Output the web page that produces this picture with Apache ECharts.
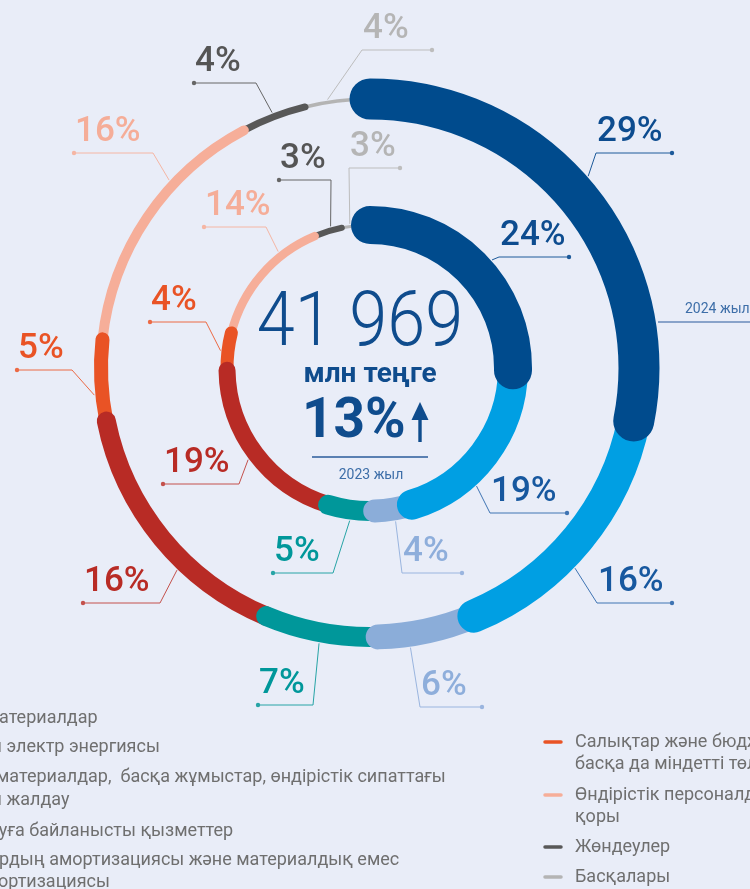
<!DOCTYPE html>
<html>
<head>
<meta charset="utf-8">
<script src="https://cdn.jsdelivr.net/npm/echarts@6/dist/echarts.min.js"></script>
<style>
  html, body { margin: 0; padding: 0; background: #e9edf8; }
  #chart { width: 750px; height: 889px; }
</style>
</head>
<body>
<div id="chart"></div>
<script>
// Cost structure by category, listed clockwise from 12 o'clock
const categories = [
  'Шикізат және материалдар',
  'Сатып алынған электр энергиясы',
  'Қосалқы материалдар,  басқа жұмыстар, өндірістік сипаттағы қызметтер мен жалдау',
  'Тасымалдауға байланысты қызметтер',
  'Негізгі құралдардың амортизациясы және материалдық емес активтердің амортизациясы',
  'Салықтар және бюджетке төленетін басқа да міндетті төлемдер',
  'Өндірістік персоналдың еңбекақы қоры',
  'Жөндеулер',
  'Басқалары'
];
const share2024 = [29, 16, 6, 7, 16, 5, 16, 4, 4];   // outer ring, %
const share2023 = [24, 19, 4, 5, 19, 4, 14, 3, 3];   // inner ring, %
const ringYears = ['2024 жыл', '2023 жыл'];
const totalCost = '41 969';
const totalUnit = 'млн теңге';
const totalGrowth = '13%';

// ---- styling ----
const segColors  = ['#004b8d', '#009fe3', '#8badd9', '#00979a', '#b82b25', '#e95325', '#f6ae99', '#585858', '#b4b4b4'];
const textColors = ['#0d4c8f', '#17589f', '#8eaedb', '#00979a', '#b82b25', '#e95325', '#f5ad98', '#555555', '#b5b5b5'];
const lineColors = ['#1d5a9a', '#3f74b3', '#9ab5df', '#27a4a6', '#c4514c', '#ec6a45', '#f5b6a4', '#666666', '#bdbdbd'];
const outerWidths = [41, 33, 25, 20, 19, 14, 10, 7, 3.5];
const innerWidths = [38, 30, 23, 20, 17, 13, 8.5, 6, 3];

// leader lines: elbow point, end x of the horizontal stroke, anchor nudge (deg)
const outerLabels = [
  { elbow: [596, 153], endX: 672, nudge: -2 },
  { elbow: [597, 603], endX: 672, nudge: 5 },
  { elbow: [420, 707], endX: 482, nudge: 4 },
  { elbow: [313, 705], endX: 258, nudge: 0 },
  { elbow: [160, 603], endX: 83,  nudge: -7 },
  { elbow: [72, 370],  endX: 17,  nudge: -3 },
  { elbow: [153, 153], endX: 74,  nudge: 9 },
  { elbow: [256, 83],  endX: 194, nudge: 0 },
  { elbow: [362, 50],  endX: 432, nudge: -2 }
];
const innerLabels = [
  { elbow: [499, 257], endX: 569, nudge: 3 },
  { elbow: [490, 513], endX: 567, nudge: 11 },
  { elbow: [402, 573], endX: 462, nudge: 0 },
  { elbow: [333, 573], endX: 273, nudge: 0 },
  { elbow: [239, 484], endX: 163, nudge: 0 },
  { elbow: [206, 322], endX: 150, nudge: 0 },
  { elbow: [266, 227], endX: 204, nudge: 11 },
  { elbow: [331, 180], endX: 279, nudge: 1.5 },
  { elbow: [349, 168], endX: 400, nudge: -2.3 }
];

const FONT = 'Roboto, "Noto Sans", sans-serif';
const LABEL_SIZE = 35;

function sum(a) { return a.reduce((s, v) => s + v, 0); }

// [radius, angleStart, angleEnd, index] per segment
function segments(values) {
  let acc = 0;
  return values.map((v, i) => { const d = [1, acc, acc + v, i]; acc += v; return d; });
}

function ringRenderer(values, widths, labels) {
  const total = sum(values);
  return function (params, api) {
    const i = api.value(3);
    const a0 = api.value(1), a1 = api.value(2);
    const cs = params.coordSys;
    const cx = cs.cx, cy = cs.cy;
    const p0 = api.coord([1, a0]);
    const p1 = api.coord([1, a1]);
    const rad = Math.hypot(p0[0] - cx, p0[1] - cy);
    const ang = p => Math.atan2(p[1] - cy, p[0] - cx);
    const w = widths[i];
    const L = labels[i];
    const pm = api.coord([1, (a0 + a1) / 2 + L.nudge * total / 360]);
    const k = (rad + w / 2 + 1) / rad;
    const anchor = [cx + (pm[0] - cx) * k, cy + (pm[1] - cy) * k];
    const lineY = L.elbow[1];
    return {
      type: 'group',
      children: [
        {
          type: 'arc', z2: 40 - i,
          shape: { cx: cx, cy: cy, r: rad, startAngle: ang(p0), endAngle: ang(p1), clockwise: true },
          style: { stroke: segColors[i], lineWidth: w, lineCap: 'round', fill: 'none' }
        },
        {
          type: 'polyline', z2: 1,
          shape: { points: [anchor, L.elbow, [L.endX, lineY]] },
          style: { stroke: lineColors[i], lineWidth: 1, fill: 'none' }
        },
        {
          type: 'circle', z2: 1,
          shape: { cx: L.endX, cy: lineY, r: 2.2 },
          style: { fill: lineColors[i] }
        },
        {
          type: 'text', z2: 2,
          x: Math.min(L.elbow[0], L.endX) + 1,
          y: lineY - 9 - 0.35 * LABEL_SIZE,
          style: {
            text: values[i] + '%', fill: textColors[i],
            fontFamily: FONT, fontWeight: 500, fontSize: LABEL_SIZE,
            align: 'left', verticalAlign: 'middle'
          }
        }
      ]
    };
  };
}

// ---- legend text placement (left column runs off the left edge) ----
const measureCtx = document.createElement('canvas').getContext('2d');
measureCtx.font = '18px Roboto';
function startFor(text, marker, targetX) {
  const i = text.indexOf(marker);
  return targetX - measureCtx.measureText(text.slice(0, i)).width;
}
const legendWrap = [
  ['Шикізат және материалдар'],
  ['Сатып алынған электр энергиясы'],
  ['Қосалқы материалдар,  басқа жұмыстар, өндірістік сипаттағы', 'қызметтер мен жалдау'],
  ['Тасымалдауға байланысты қызметтер'],
  ['Негізгі құралдардың амортизациясы және материалдық емес', 'активтердің амортизациясы'],
  ['Салықтар және бюджетке төленетін', 'басқа да міндетті төлемдер'],
  ['Өндірістік персоналдың еңбекақы', 'қоры'],
  ['Жөндеулер'],
  ['Басқалары']
];
// visible portion markers for the left column lines and where they start
const leftClip = [
  [['атериалдар', -1]],
  [[' электр', 2]],
  [['материалдар,', -4], [' жалдау', 2]],
  [['уға', -1]],
  [['рдың', -1], ['ортизациясы', -2]]
];
const legendRowY = [[718], [747], [777, 800], [831], [860, 882], [742, 764], [795, 817], [847], [877]];

const graphics = [];
legendWrap.forEach((lines, i) => {
  let firstX;
  lines.forEach((line, j) => {
    let x = 575;
    if (i < 5) x = startFor(line, leftClip[i][j][0], leftClip[i][j][1]);
    if (j === 0) firstX = x;
    graphics.push({
      type: 'text', x: x, y: legendRowY[i][j],
      style: { text: line, fill: '#6f6f6f', fontFamily: FONT, fontSize: 18, align: 'left', verticalAlign: 'middle' }
    });
  });
  graphics.push({
    type: 'line',
    shape: { x1: firstX - 30, y1: legendRowY[i][0], x2: firstX - 14, y2: legendRowY[i][0] },
    style: { stroke: segColors[i], lineWidth: 3.5, lineCap: 'round' }
  });
});

// ---- centre block ----
const navy = '#0f4c8d';
graphics.push(
  { type: 'text', x: 360, y: 326, scaleX: 0.9,
    style: { text: totalCost, fill: navy, fontFamily: FONT, fontWeight: 300, fontSize: 76, align: 'center', verticalAlign: 'middle' } },
  { type: 'text', x: 370, y: 375,
    style: { text: totalUnit, fill: navy, fontFamily: FONT, fontWeight: 700, fontSize: 28, align: 'center', verticalAlign: 'middle' } },
  { type: 'text', x: 302, y: 423,
    style: { text: totalGrowth, fill: navy, fontFamily: FONT, fontWeight: 700, fontSize: 55, align: 'left', verticalAlign: 'middle' } },
  { type: 'polygon', shape: { points: [[420, 402], [411.5, 420], [428.5, 420]] }, style: { fill: navy } },
  { type: 'rect', shape: { x: 418.3, y: 417, width: 3.4, height: 25 }, style: { fill: navy } },
  { type: 'line', shape: { x1: 312, y1: 457, x2: 428, y2: 457 }, style: { stroke: '#2a5b9b', lineWidth: 1.5 } },
  { type: 'text', x: 371, y: 475,
    style: { text: ringYears[1], fill: '#3d6ea8', fontFamily: FONT, fontSize: 14, align: 'center', verticalAlign: 'middle' } },
  { type: 'text', x: 685, y: 309,
    style: { text: ringYears[0], fill: '#3d6ea8', fontFamily: FONT, fontSize: 14, align: 'left', verticalAlign: 'middle' } },
  { type: 'line', shape: { x1: 658, y1: 322, x2: 750, y2: 322 }, style: { stroke: '#2a5b9b', lineWidth: 1.2 } }
);

function hiddenAngle(polarIndex, max) {
  return { polarIndex, type: 'value', min: 0, max, startAngle: 90, clockwise: true,
    show: false, axisLine: { show: false }, splitLine: { show: false }, axisLabel: { show: false }, axisTick: { show: false } };
}
function hiddenRadius(polarIndex) {
  return { polarIndex, type: 'value', min: 0, max: 1,
    show: false, axisLine: { show: false }, splitLine: { show: false }, axisLabel: { show: false }, axisTick: { show: false } };
}

const chart = echarts.init(document.getElementById('chart'), null, { renderer: 'canvas' });
chart.setOption({
  backgroundColor: '#e9edf8',
  animation: false,
  polar: [
    { center: [370, 368], radius: [0, 269] },
    { center: [370, 368], radius: [0, 143] }
  ],
  angleAxis: [hiddenAngle(0, sum(share2024)), hiddenAngle(1, sum(share2023))],
  radiusAxis: [hiddenRadius(0), hiddenRadius(1)],
  series: [
    {
      name: ringYears[0], type: 'custom', coordinateSystem: 'polar', polarIndex: 0,
      dimensions: ['radius', 'from', 'to', 'idx'],
      encode: { radius: 0, angle: [1, 2] },
      data: segments(share2024),
      renderItem: ringRenderer(share2024, outerWidths, outerLabels),
      silent: true
    },
    {
      name: ringYears[1], type: 'custom', coordinateSystem: 'polar', polarIndex: 1,
      dimensions: ['radius', 'from', 'to', 'idx'],
      encode: { radius: 0, angle: [1, 2] },
      data: segments(share2023),
      renderItem: ringRenderer(share2023, innerWidths, innerLabels),
      silent: true
    }
  ],
  graphic: { elements: graphics }
});
</script>
</body>
</html>
